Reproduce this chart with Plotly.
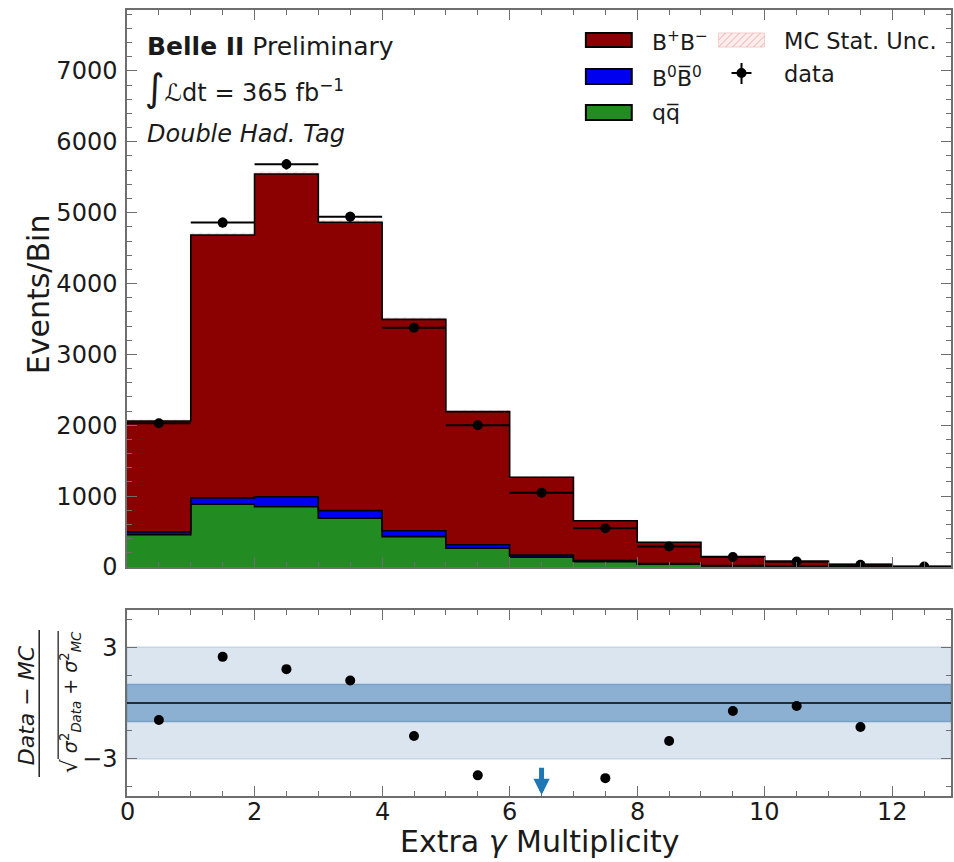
import plotly.graph_objects as go

# ---- data -------------------------------------------------------------
bin_edges = list(range(0, 14))
bin_centers = [e + 0.5 for e in range(0, 13)]

qqbar = [455, 885, 851, 687, 428, 264, 140, 75, 40, 15, 8, 4, 1]
b0b0bar = [40, 90, 140, 108, 84, 50, 30, 15, 8, 4, 2, 1, 0]
bpbm = [1565, 3710, 4555, 4069, 2983, 1878, 1096, 563, 301, 129, 70, 33, 5]
mc_stat_unc = [20, 32, 36, 33, 28, 22, 17, 12, 9, 6, 4, 3, 1]

data_counts = [2028, 4860, 5683, 4944, 3377, 2000, 1049, 546, 290, 141, 77, 32, 6]
data_err = [45, 70, 75, 70, 58, 45, 32, 23, 17, 12, 9, 6, 2]

pulls = [-0.91, 2.48, 1.82, 1.21, -1.77, -3.89, -6.5, -4.04, -2.04, -0.43, -0.16, -1.29, None]

x_tick_vals = [0, 2, 4, 6, 8, 10, 12]
x_range = [0, 12.92]
y_top_range = [0, 7860]
pull_range = [-5, 5]

# ---- page geometry ----------------------------------------------------
W, H = 954, 862
ML, MR, MT, MB = 127, 1, 10, 66
PW, PH = W - ML - MR, H - MT - MB


def px_x(p):
    return (p - ML) / PW


def px_y(p):
    return (H - MB - p) / PH


FONT = "DejaVu Sans"
FRAME = "#6e6e6e"
TXT = "#1a1a1a"
RED, BLUE, GREEN = "#8b0000", "#0000f0", "#228b22"

# cumulative stack levels
cum_green = qqbar[:]
cum_blue = [a + b for a, b in zip(cum_green, b0b0bar)]
cum_red = [a + b for a, b in zip(cum_blue, bpbm)]


def steps(vals):
    return vals + [vals[-1]]


fig = go.Figure()

for level, fill, color in [(cum_green, "tozeroy", GREEN),
                           (cum_blue, "tonexty", BLUE),
                           (cum_red, "tonexty", RED)]:
    fig.add_trace(go.Scatter(
        x=bin_edges, y=steps(level), mode="lines", fill=fill,
        fillcolor=color, line=dict(shape="hv", color="black", width=1.6),
        xaxis="x", yaxis="y", showlegend=False, hoverinfo="skip"))

# MC statistical uncertainty band
fig.add_trace(go.Bar(
    x=bin_centers, y=[2 * u for u in mc_stat_unc],
    base=[t - u for t, u in zip(cum_red, mc_stat_unc)], width=1.0,
    marker=dict(color="rgba(255,200,200,0.35)", line=dict(width=0),
                pattern=dict(shape="/", fgcolor="rgba(240,150,150,0.8)", size=6)),
    xaxis="x", yaxis="y", showlegend=False, hoverinfo="skip"))

# data points
fig.add_trace(go.Scatter(
    x=bin_centers, y=data_counts, mode="markers",
    marker=dict(color="black", size=10),
    error_x=dict(type="constant", value=0.5, width=0, thickness=2, color="black"),
    error_y=dict(type="data", array=data_err, width=0, thickness=2, color="black"),
    xaxis="x", yaxis="y", showlegend=False))

# pull panel
in_x = [c for c, p in zip(bin_centers, pulls) if p is not None and pull_range[0] <= p <= pull_range[1]]
in_p = [p for p in pulls if p is not None and pull_range[0] <= p <= pull_range[1]]
fig.add_trace(go.Scatter(
    x=in_x, y=in_p, mode="markers", marker=dict(color="black", size=10),
    xaxis="x2", yaxis="y2", showlegend=False))

shapes = []
annotations = []

# ±3 and ±1 bands
shapes.append(dict(type="rect", xref="x2 domain", yref="y2", x0=0, x1=1, y0=-3, y1=3,
                   fillcolor="#dae5ef", line=dict(color="#c3d5e6", width=1.5), layer="below"))
shapes.append(dict(type="rect", xref="x2 domain", yref="y2", x0=0, x1=1, y0=-1, y1=1,
                   fillcolor="#8cb0d1", line=dict(color="#78a0c6", width=1.5), layer="below"))
shapes.append(dict(type="line", xref="x2 domain", yref="y2", x0=0, x1=1, y0=0, y1=0,
                   line=dict(color="black", width=1.6), layer="below"))

# arrows for pulls beyond the lower edge
for c, p in zip(bin_centers, pulls):
    if p is not None and p < pull_range[0]:
        annotations.append(dict(
            x=c, y=pull_range[0] + 0.05, ax=c, ay=pull_range[0] + 1.6,
            xref="x2", yref="y2", axref="x2", ayref="y2", text="",
            showarrow=True, arrowhead=2, arrowsize=0.65, arrowwidth=5,
            arrowcolor="#1f77b4"))


def note(x, y, txt, size, xanchor="center", angle=0):
    annotations.append(dict(x=px_x(x), y=px_y(y), xref="paper", yref="paper",
                            xanchor=xanchor, yanchor="middle", text=txt,
                            textangle=angle, showarrow=False,
                            font=dict(family=FONT, size=size, color=TXT)))


# ---- text in the main panel --------------------------------------------
note(145, 47, "<b>Belle II</b> Preliminary", 25, "left")
note(143, 88, "<span style='font-size:38px'>∫</span><i>ℒ</i>dt = 365 fb<sup>−1</sup>", 24, "left")
note(145, 134, "<i>Double Had. Tag</i>", 24, "left")

# ---- legend -------------------------------------------------------------
def box(x0, y0, x1, y1, color):
    shapes.append(dict(type="rect", xref="paper", yref="paper",
                       x0=px_x(x0), x1=px_x(x1), y0=px_y(y1), y1=px_y(y0),
                       fillcolor=color, line=dict(color="black", width=2)))


box(587, 33, 633, 47, RED)
box(587, 69, 633, 84, BLUE)
box(587, 105, 633, 120, GREEN)
note(651, 41, "B<sup>+</sup>B<sup>−</sup>", 22, "left")
note(651, 77, "B<sup>0</sup>B\u0305<sup>0</sup>", 22, "left")
note(651, 113, "qq\u0305", 22, "left")

# hatched swatch for the MC uncertainty
shapes.append(dict(type="rect", xref="paper", yref="paper",
                   x0=px_x(720), x1=px_x(766), y0=px_y(47), y1=px_y(33),
                   fillcolor="#fdeeee", line=dict(color="#f6cccc", width=1)))
for k in range(-2, 8):
    xa = 720 + k * 7
    xs0, ys0 = xa, 47
    xs1, ys1 = xa + 14, 33
    if xs0 < 720:
        ys0 = 47 - (720 - xs0)
        xs0 = 720
    if xs1 > 766:
        ys1 = 33 + (xs1 - 766)
        xs1 = 766
    if xs0 < xs1:
        shapes.append(dict(type="line", xref="paper", yref="paper",
                           x0=px_x(xs0), y0=px_y(ys0), x1=px_x(xs1), y1=px_y(ys1),
                           line=dict(color="#f2a8a8", width=1)))
note(784, 41, "MC Stat. Unc.", 22.5, "left")

# data swatch
shapes.append(dict(type="line", xref="paper", yref="paper", x0=px_x(733), x1=px_x(753),
                   y0=px_y(73), y1=px_y(73), line=dict(color="black", width=2)))
shapes.append(dict(type="line", xref="paper", yref="paper", x0=px_x(743), x1=px_x(743),
                   y0=px_y(63), y1=px_y(84), line=dict(color="black", width=2)))
shapes.append(dict(type="circle", xref="paper", yref="paper", x0=px_x(738), x1=px_x(748),
                   y0=px_y(78), y1=px_y(68), fillcolor="black", line=dict(width=0)))
note(784, 74, "data", 22.5, "left")

# ---- x tick labels of the lower panel, placed on the x2 scale ---------------
for v in x_tick_vals:
    annotations.append(dict(x=v, y=px_y(812), xref="x2", yref="paper",
                            xanchor="center", yanchor="middle", text=str(v),
                            showarrow=False, font=dict(family=FONT, size=24, color=TXT)))

# ---- axis titles ----------------------------------------------------------
note(38, 294, "Events/Bin", 30, angle=-90)
note(541, 842, "Extra <i>γ</i> Multiplicity", 30)

# pull label: (Data − MC) / sqrt(σ²_Data + σ²_MC)
note(26, 705, "<i>Data − MC</i>", 22, angle=-90)
shapes.append(dict(type="line", xref="paper", yref="paper", x0=px_x(39), x1=px_x(39),
                   y0=px_y(630), y1=px_y(777), line=dict(color="#222", width=1.5)))
note(70, 692, "<i>σ</i><sup>2</sup><sub><i>Data</i></sub> + <i>σ</i><sup>2</sup><sub><i>MC</i></sub>",
     19, angle=-90)
note(69, 766, "√", 22, angle=-90)
shapes.append(dict(type="line", xref="paper", yref="paper", x0=px_x(58), x1=px_x(58),
                   y0=px_y(631), y1=px_y(759), line=dict(color="#222", width=1.3)))

# ---- axes -----------------------------------------------------------------
axis_common = dict(
    showline=True, linecolor=FRAME, linewidth=1.5, mirror="allticks",
    ticks="inside", ticklen=10, tickwidth=1.3, tickcolor=FRAME,
    showgrid=False, zeroline=False,
    tickfont=dict(family=FONT, size=24, color=TXT),
)

top_dom = [px_y(567), 1.0]
bot_dom = [0.0, px_y(610)]

fig.update_layout(
    width=W, height=H,
    margin=dict(l=ML, r=MR, t=MT, b=MB),
    paper_bgcolor="white", plot_bgcolor="white",
    barmode="overlay", showlegend=False,
    font=dict(family=FONT),
    xaxis=dict(axis_common, range=x_range, domain=[0, 1], anchor="y", matches="x2",
               showticklabels=False, tickvals=x_tick_vals,
               minor=dict(ticks="inside", dtick=0.5, ticklen=5, tickcolor=FRAME, tickwidth=1)),
    yaxis=dict(axis_common, range=y_top_range, domain=top_dom, anchor="x",
               dtick=1000, tick0=0, ticklabelstandoff=3,
               minor=dict(ticks="inside", dtick=200, ticklen=5, tickcolor=FRAME, tickwidth=1)),
    xaxis2=dict(axis_common, range=x_range, domain=[0, 1], anchor="y2",
                showticklabels=False, tickvals=x_tick_vals,
                minor=dict(ticks="inside", dtick=0.5, ticklen=5, tickcolor=FRAME, tickwidth=1)),
    yaxis2=dict(axis_common, range=pull_range, domain=bot_dom, anchor="x2",
                tickvals=[-3, 3], ticktext=["−3", "3"], ticklabelstandoff=3,
                minor=dict(ticks="inside", tickvals=[-4.5, -1.5, 1.5, 4.5], ticklen=5,
                           tickcolor=FRAME, tickwidth=1)),
    shapes=shapes,
    annotations=annotations,
)

fig.write_html("out.html")
